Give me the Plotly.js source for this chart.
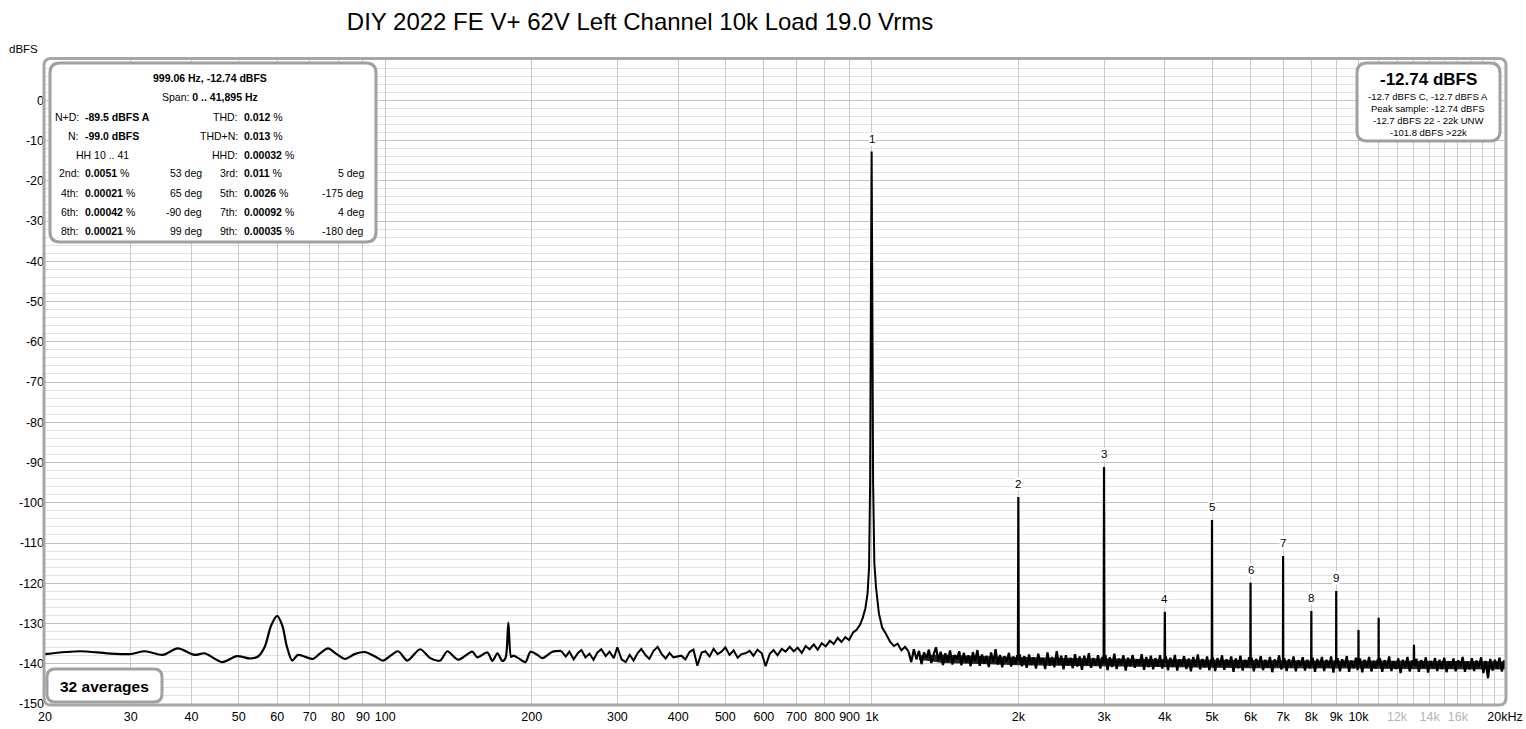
<!DOCTYPE html>
<html><head><meta charset="utf-8">
<script src="https://cdn.plot.ly/plotly-3.0.1.min.js"></script>
<style>html,body{margin:0;padding:0;background:#fff}#chart{width:1526px;height:729px}</style>
</head><body><div id="chart"></div>
<script>
// ---------------- DATA ----------------
const titleText = 'DIY 2022 FE V+ 62V Left Channel 10k Load 19.0 Vrms';

// 20 Hz .. 230 Hz (smooth part)
const freqLow = [20,23.6,26.8,29.9,32.1,34.9,37.5,40.6,42.6,46.2,49.6,52.8,54.8,56.6,58.3,60,61.5,62.8,64.4,66.2,68.5,71.1,73.5,76.3,79.5,82.7,86.5,91.0,96.3,99.1,106.3,111.0,118.0,123.8,129.8,134.2,141.3,151.0,154.6,162.2,166.1,170.1,174.1,176.8,179.1,181.5,183.4,187.8,194.2,198.9,205.5,210.4,220.7,230];
const levelLow = [-137.6,-136.9,-137.4,-137.6,-136.9,-137.8,-136.2,-137.8,-137.4,-139.6,-138.1,-138.7,-138.2,-135.7,-130.5,-128.1,-130.6,-135.7,-139.2,-137.8,-138.3,-138.8,-137.4,-136.2,-137.6,-138.8,-137.6,-137.1,-138.5,-139.2,-136.9,-139.2,-136.4,-138.6,-139.2,-136.9,-139.0,-137.0,-138.4,-137.2,-139.3,-137.4,-139.3,-138.5,-129.8,-138.3,-138.0,-138.6,-139.6,-137.0,-137.8,-138.6,-137.0,-136.8];

// 230 Hz .. 851 Hz
const freqMid = [230,235,239,244,249,253,258,263,268,273,278,284,289,295,300,306,312,318,324,330,336,343,349,356,363,370,377,384,391,399,406,414,422,430,438,447,455,464,473,482,491,500,510,520,530,540,550,561,571,582,594,605,617,628,640,653,665,678,691,704,718,731,745,760,774,789,804,820,835,851];
const levelMid = [-136.8,-138.2,-137.0,-138.9,-137.3,-136.6,-138.4,-137.5,-139.0,-137.2,-136.4,-138.1,-137.0,-138.6,-135.9,-138.9,-139.6,-137.8,-139.2,-137.4,-136.3,-137.9,-138.8,-136.8,-135.8,-137.6,-138.7,-137.3,-138.4,-138.2,-138.0,-138.9,-137.1,-136.5,-140.5,-137.2,-136.9,-138.2,-136.3,-137.6,-137.0,-135.9,-137.8,-136.7,-138.5,-137.6,-137.4,-136.8,-138.0,-136.5,-137.4,-140.6,-137.5,-136.6,-137.9,-136.3,-137.0,-135.8,-136.9,-136.0,-137.3,-135.6,-136.4,-135.2,-136.5,-134.9,-135.7,-134.3,-135.1,-133.6];

// fundamental and its skirt
const freqFund = [866,882,898,915,930,945,958,970,980,987,992,996,999,1002,1006,1012,1020,1034,1050,1068,1090,1110,1130,1150,1170,1190];
const levelFund = [-134.6,-133.4,-134.1,-132.2,-131.6,-130.4,-128.6,-126.2,-122.5,-116,-95,-45,-12.74,-45,-95,-115,-121.0,-127.5,-131.0,-132.5,-134.5,-135.6,-135.0,-136.7,-135.8,-137.0];

// 1.2 kHz .. 20 kHz noise floor with harmonics
const freqHigh = [1190,1205,1220,1235,1250,1265,1280,1295,1310,1325,1340,1355,1370,1385,1400,1416,1432,1448,1464,1480,1496,1512,1528,1545,1562,1579,1596,1613,1630,1648,1666,1684,1702,1720,1739,1758,1777,1796,1815,1834,1853,1873,1893,1913,1933,1953,1973,1990,1996,2000,2004,2012,2035,2058,2081,2104,2127,2150,2174,2198,2222,2246,2271,2296,2321,2346,2372,2398,2424,2450,2477,2504,2531,2559,2587,2615,2644,2673,2702,2732,2762,2792,2822,2853,2884,2916,2948,2975,2994,3000,3006,3020,3050,3083,3116,3150,3184,3218,3253,3288,3324,3360,3397,3434,3471,3509,3547,3586,3625,3664,3704,3744,3785,3826,3868,3910,3952,3985,3994,4000,4006,4020,4060,4105,4150,4195,4241,4287,4334,4381,4429,4477,4526,4575,4625,4676,4727,4779,4831,4884,4937,4980,4994,5000,5006,5020,5075,5130,5186,5243,5300,5358,5417,5476,5536,5596,5657,5719,5781,5844,5908,5960,5994,6000,6006,6030,6095,6162,6229,6297,6366,6436,6506,6577,6649,6722,6795,6869,6940,6994,7000,7006,7040,7117,7195,7274,7353,7434,7515,7597,7680,7764,7849,7940,7994,8000,8006,8050,8140,8230,8320,8410,8500,8595,8690,8785,8880,8960,8994,9000,9006,9060,9160,9260,9360,9460,9565,9670,9775,9880,9960,9994,10000,10006,10070,10180,10290,10400,10515,10630,10745,10860,10960,10994,11000,11006,11070,11190,11310,11435,11560,11685,11810,11940,12070,12200,12335,12470,12605,12740,12880,12980,13000,13020,13160,13305,13450,13600,13750,13900,14050,14205,14360,14515,14675,14835,15000,15165,15330,15500,15670,15840,16015,16190,16370,16550,16730,16915,17100,17285,17475,17665,17860,18055,18255,18455,18655,18860,19065,19275,19485,19700,19915,20000];
const levelHigh = [-137.0,-139.6,-136.4,-138.9,-136.8,-140.1,-137.2,-138.6,-136.5,-139.8,-137.6,-135.9,-139.2,-137.0,-140.3,-137.4,-139.5,-136.7,-140.2,-137.8,-138.9,-136.9,-140.4,-137.3,-139.7,-137.9,-140.6,-137.1,-139.3,-136.6,-140.5,-137.7,-139.9,-138.0,-140.8,-137.2,-139.6,-136.4,-140.2,-137.8,-140.9,-138.1,-139.5,-137.3,-140.7,-138.2,-140.1,-137.9,-139.0,-98.6,-139.2,-137.6,-140.6,-138.1,-141.0,-137.7,-140.3,-138.4,-141.2,-137.5,-140.0,-138.6,-141.3,-137.2,-140.5,-138.3,-140.9,-136.9,-140.2,-138.0,-141.4,-137.9,-140.4,-138.5,-141.1,-137.6,-140.7,-138.2,-141.5,-138.0,-140.3,-137.4,-141.0,-138.6,-140.5,-137.9,-141.2,-138.3,-139.8,-91.1,-140.0,-137.8,-141.6,-138.4,-140.8,-137.5,-141.3,-138.7,-140.2,-137.9,-141.7,-138.5,-140.6,-137.8,-141.0,-138.9,-140.4,-137.6,-141.5,-138.3,-140.9,-138.0,-141.4,-138.6,-140.7,-137.9,-141.2,-138.8,-139.5,-127.1,-139.8,-138.2,-141.6,-138.5,-140.8,-137.8,-141.7,-138.9,-140.5,-138.1,-141.3,-138.7,-141.9,-138.3,-140.6,-137.7,-141.4,-138.8,-140.9,-138.2,-141.6,-139.0,-139.6,-104.3,-139.9,-138.4,-141.8,-138.6,-140.7,-137.9,-141.5,-138.9,-140.6,-138.2,-142.0,-138.7,-141.1,-138.0,-141.7,-139.0,-140.8,-138.4,-140.1,-119.9,-140.3,-138.5,-141.9,-138.8,-140.7,-138.1,-141.6,-139.0,-141.0,-138.3,-142.1,-138.9,-140.6,-137.9,-141.4,-139.6,-113.2,-140.0,-138.6,-141.8,-138.9,-140.8,-138.2,-141.9,-139.1,-140.5,-138.4,-141.7,-139.0,-141.2,-139.4,-126.9,-140.1,-138.5,-142.0,-138.8,-140.9,-138.3,-141.8,-139.0,-141.0,-138.2,-142.2,-139.1,-140.0,-121.9,-140.2,-138.6,-141.9,-138.9,-140.7,-138.1,-142.0,-139.2,-141.1,-138.5,-141.6,-139.5,-131.6,-140.2,-138.7,-142.1,-139.0,-141.0,-138.3,-141.9,-139.3,-141.2,-138.8,-140.0,-128.6,-140.4,-138.6,-142.0,-139.1,-140.9,-138.2,-141.8,-139.4,-141.3,-138.7,-142.3,-139.0,-140.8,-138.3,-141.9,-139.2,-140.4,-135.3,-140.6,-138.8,-142.0,-139.1,-141.0,-138.4,-142.2,-139.3,-140.9,-138.6,-141.8,-139.0,-141.3,-138.5,-142.1,-139.4,-141.0,-138.7,-141.9,-139.1,-140.8,-138.3,-142.0,-139.5,-141.4,-138.6,-141.8,-139.2,-140.9,-138.4,-142.3,-139.3,-143.6,-138.8,-141.7,-139.0,-141.2,-138.5,-141.9,-139.2,-140.5];

// dense core of the noise band (upper / lower edge)
const bandFreq = [1250,1400,1600,1800,2000,2500,3000,3500,4000,5000,6000,7000,8000,10000,12000,14000,16000,18000,20000];
const bandUpper = [-137.9,-137.7,-138.0,-138.2,-138.4,-138.6,-138.7,-138.8,-138.9,-139.0,-139.1,-139.1,-139.2,-139.2,-139.3,-139.3,-139.3,-139.4,-139.4];
const bandLower = [-139.0,-139.8,-140.0,-140.2,-140.4,-140.6,-140.7,-140.8,-140.9,-141.0,-141.1,-141.1,-141.2,-141.2,-141.3,-141.3,-141.3,-141.4,-141.4];

// harmonic labels
const harmLabels = ['1','2','3','4','5','6','7','8','9'];
const harmFreqs = [999,2000,3000,4000,5000,6000,7000,8000,9000];

// x tick labels
const xTickVals = [20,30,40,50,60,70,80,90,100,200,300,400,500,600,700,800,900,1000,2000,3000,4000,5000,6000,7000,8000,9000,10000,11000,12000,13000,14000,15000,16000,17000,18000,19000,20000];
const xTickText = ['20','30','40','50','60','70','80','90','100','200','300','400','500','600','700','800','900','1k','2k','3k','4k','5k','6k','7k','8k','9k','10k','','12k','','14k','','16k','','','','20kHz'];
const xTickMuted = ['12k','14k','16k'];
const yTickVals = [0,-10,-20,-30,-40,-50,-60,-70,-80,-90,-100,-110,-120,-130,-140,-150];

// info panels
const infoHeader = ['999.06 Hz, -12.74 dBFS', 'Span: <b>0 .. 41,895 Hz</b>'];
const infoRows = [
  ['N+D:', '<b>-89.5 dBFS A</b>', '', 'THD:', '<b>0.012</b> %', ''],
  ['N:', '<b>-99.0 dBFS</b>', '', 'THD+N:', '<b>0.013</b> %', ''],
  ['', '', '', 'HHD:', '<b>0.00032</b> %', ''],
  ['2nd:', '<b>0.0051</b> %', '53 deg', '3rd:', '<b>0.011</b> %', '5 deg'],
  ['4th:', '<b>0.00021</b> %', '65 deg', '5th:', '<b>0.0026</b> %', '-175 deg'],
  ['6th:', '<b>0.00042</b> %', '-90 deg', '7th:', '<b>0.00092</b> %', '4 deg'],
  ['8th:', '<b>0.00021</b> %', '99 deg', '9th:', '<b>0.00035</b> %', '-180 deg']
];
const hhText = 'HH 10 .. 41';
const levelBig = '-12.74 dBFS';
const levelLines = ['-12.7 dBFS C, -12.7 dBFS A', 'Peak sample: -12.74 dBFS', '-12.7 dBFS 22 - 22k UNW', '-101.8 dBFS >22k'];
const averagesText = '32 averages';

// ---------------- LAYOUT HELPERS ----------------
const W = 1526, H = 729, ML = 45, MR = 21, MT = 60, MB = 25;
const PW = W - ML - MR, PH = H - MT - MB;
const FONT = 'Liberation Sans, Arial, sans-serif';
const px = p => (p - ML) / PW;
const py = p => (H - MB - p) / PH;
function rr(x0, y0, x1, y1, r) {
  const P = (x, y) => px(x).toFixed(5) + ',' + py(y).toFixed(5);
  return 'M' + P(x0 + r, y0) + ' L' + P(x1 - r, y0) + ' Q' + P(x1, y0) + ' ' + P(x1, y0 + r) +
    ' L' + P(x1, y1 - r) + ' Q' + P(x1, y1) + ' ' + P(x1 - r, y1) +
    ' L' + P(x0 + r, y1) + ' Q' + P(x0, y1) + ' ' + P(x0, y1 - r) +
    ' L' + P(x0, y0 + r) + ' Q' + P(x0, y0) + ' ' + P(x0 + r, y0) + ' Z';
}
function txt(x, y, text, size, anchor, extra) {
  return Object.assign({xref: 'paper', yref: 'paper', x: px(x), y: py(y), text: text,
    showarrow: false, xanchor: anchor || 'center', yanchor: 'middle',
    font: {family: FONT, size: size, color: '#000'}}, extra || {});
}

// ---------------- TRACES ----------------
const traces = [
  {x: bandFreq.concat(bandFreq.slice().reverse()), y: bandUpper.concat(bandLower.slice().reverse()),
   type: 'scatter', mode: 'lines', fill: 'toself', fillcolor: 'rgba(0,0,0,0.85)', line: {width: 0}, hoverinfo: 'skip'},
  {x: freqLow, y: levelLow, type: 'scatter', mode: 'lines',
   line: {color: '#000', width: 2.2, shape: 'spline', smoothing: 0.8}, hoverinfo: 'skip'},
  {x: freqMid.concat(freqFund), y: levelMid.concat(levelFund), type: 'scatter', mode: 'lines',
   line: {color: '#000', width: 2}, hoverinfo: 'skip'},
  {x: freqHigh, y: levelHigh, type: 'scatter', mode: 'lines',
   line: {color: '#000', width: 2.2}, hoverinfo: 'skip'}
];

const allF = freqLow.concat(freqMid, freqFund, freqHigh);
const allL = levelLow.concat(levelMid, levelFund, levelHigh);

// ---------------- ANNOTATIONS ----------------
const ann = [];
ann.push(txt(23, 49, 'dBFS', 11.5));
harmFreqs.forEach((f, i) => {
  const idx = allF.indexOf(f);
  ann.push({xref: 'x', yref: 'y', x: Math.log10(f), y: allL[idx], text: harmLabels[i], showarrow: false,
    yanchor: 'bottom', xanchor: 'center', yshift: 6, bgcolor: '#fff', borderpad: 0,
    font: {family: FONT, size: 11.5, color: '#000'}});
});
// left info panel
ann.push(txt(210, 78, '<b>' + infoHeader[0] + '</b>', 10.5));
ann.push(txt(210, 97.5, infoHeader[1], 10.5));
const rowY0 = 116.5, rowDY = 19;
infoRows.forEach((r, i) => {
  const y = rowY0 + i * rowDY;
  if (r[0]) ann.push(txt(81, y, r[0], 10.5, 'right'));
  if (r[1]) ann.push(txt(83, y, r[1], 10.5, 'left'));
  if (r[2]) ann.push(txt(204, y, r[2], 10.5, 'right'));
  if (r[3]) ann.push(txt(240, y, r[3], 10.5, 'right'));
  if (r[4]) ann.push(txt(242, y, r[4], 10.5, 'left'));
  if (r[5]) ann.push(txt(366, y, r[5], 10.5, 'right'));
});
ann.push(txt(102, rowY0 + 2 * rowDY, hhText, 10.5));
// right level panel
ann.push(txt(1428, 80, '<b>' + levelBig + '</b>', 17));
levelLines.forEach((t, i) => ann.push(txt(1428, 96.5 + i * 12, t, 9.5)));
// averages
ann.push(txt(104, 686, '<b>' + averagesText + '</b>', 15.5));

// ---------------- SHAPES ----------------
const shapes = [
  {type: 'path', xref: 'paper', yref: 'paper', path: rr(44, 58.5, 1506, 705, 7), line: {color: '#a6a6a6', width: 3}, layer: 'above'},
  {type: 'path', xref: 'paper', yref: 'paper', path: rr(50, 63, 376, 242, 10), fillcolor: '#fff', line: {color: '#a0a0a0', width: 3}, layer: 'above'},
  {type: 'path', xref: 'paper', yref: 'paper', path: rr(1357, 63, 1500, 141, 10), fillcolor: '#fff', line: {color: '#a0a0a0', width: 3}, layer: 'above'},
  {type: 'path', xref: 'paper', yref: 'paper', path: rr(47, 669, 162, 702, 8), fillcolor: '#fff', line: {color: '#a0a0a0', width: 3}, layer: 'above'}
];

const xRange = [Math.log10(20), Math.log10(20000)];
const layout = {
  width: W, height: H,
  margin: {l: ML, r: MR, t: MT, b: MB, pad: 0},
  paper_bgcolor: '#fff', plot_bgcolor: '#fff',
  showlegend: false,
  font: {family: FONT, size: 12, color: '#000'},
  title: {text: titleText, xref: 'container', yref: 'container', x: 640 / W, xanchor: 'center',
          y: 1 - 22 / H, yanchor: 'middle', font: {family: FONT, size: 24, color: '#000'}},
  xaxis: {type: 'log', range: xRange, tickmode: 'array', tickvals: xTickVals,
          ticktext: xTickText.map(t => xTickMuted.includes(t) ? '<span style="color:#b4b4b4">' + t + '</span>' : t),
          showgrid: true, gridcolor: '#c9c9c9', gridwidth: 1, zeroline: false, showline: false, ticks: '',
          ticklabelstandoff: 3,
          tickfont: {family: FONT, size: 12.5, color: '#000'}, fixedrange: true},
  xaxis2: {type: 'log', range: xRange, overlaying: 'x', anchor: 'y', tickmode: 'array', tickvals: [100, 1000, 10000],
           showticklabels: false, showgrid: true, gridcolor: '#7c7c7c', gridwidth: 1, zeroline: false, showline: false, ticks: ''},
  yaxis: {range: [-150, 10], tickmode: 'array', tickvals: yTickVals, ticktext: yTickVals.map(String),
          showgrid: true, gridcolor: '#c2c2c2', gridwidth: 1, zeroline: false, showline: false, ticks: '',
          minor: {tick0: 0, dtick: 2, showgrid: true, gridcolor: '#e2e2e2', gridwidth: 1},
          tickfont: {family: FONT, size: 12.5, color: '#000'}, fixedrange: true},
  shapes: shapes,
  annotations: ann
};

Plotly.newPlot('chart', traces, layout, {staticPlot: true, displayModeBar: false});
</script>
</body></html>
